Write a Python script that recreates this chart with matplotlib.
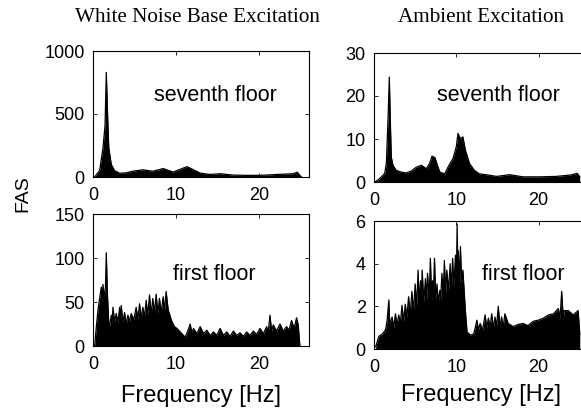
import matplotlib.pyplot as plt
import numpy as np

# upper envelopes of the Fourier amplitude spectra
wn7_f = [0.0, 0.2, 0.8, 1.2, 1.45, 1.6, 1.73, 1.9, 2.2, 2.6, 3.2, 4.0, 4.8, 6.0, 7.2, 8.45,
         9.65, 11.3, 11.9, 12.9, 14.1, 15.3, 16.9, 18.5, 20.1, 22.1, 24.1, 24.6, 24.9, 25.1]
wn7_a = [0, 0, 52, 230, 410, 830, 540, 230, 100, 50, 30, 33, 46, 57, 46, 67,
         39, 82, 64, 31, 20, 26, 15, 13, 13, 20, 26, 38, 13, 0]

# spikes and the dense level between them
wn1_f = [0.0, 0.2, 0.4, 0.6, 0.8, 1.0, 1.1, 1.2, 1.33, 1.5, 1.6, 1.73, 1.9, 2.0, 2.2, 2.3,
         2.4, 2.6, 2.8, 3.0, 3.2, 3.3, 3.4, 3.6, 3.8, 4.0, 4.2, 4.4, 4.6, 4.9, 5.2, 5.4,
         5.6, 5.8, 6.0, 6.2, 6.4, 6.6, 6.8, 7.0, 7.2, 7.4, 7.6, 7.8, 8.0, 8.2, 8.45, 8.6,
         8.8, 9.05, 9.45, 9.8, 10.1, 10.7, 11.1, 11.4, 11.7, 11.9, 12.1, 12.5, 12.9, 13.3,
         13.7, 14.1, 14.5, 14.9, 15.3, 15.7, 16.1, 16.5, 16.9, 17.3, 17.7, 18.1, 18.5, 18.9,
         19.3, 19.7, 20.1, 20.5, 20.9, 21.1, 21.3, 21.5, 21.7, 22.1, 22.5, 22.9, 23.3, 23.6,
         23.9, 24.2, 24.5, 24.7, 24.9]
wn1_a = [0, 0, 22, 41, 54, 67, 50, 70, 56, 67, 106, 60, 25, 22, 35, 24,
         44, 28, 37, 26, 44, 30, 46, 27, 38, 25, 35, 28, 37, 30, 44, 30,
         48, 32, 44, 33, 52, 35, 58, 36, 54, 38, 59, 37, 54, 38, 56, 40,
         62, 41, 29, 22, 20, 14, 10, 17, 25, 15, 20, 14, 22, 14,
         18, 12, 16, 12, 20, 12, 16, 11, 17, 12, 15, 11, 16, 12,
         17, 13, 20, 14, 22, 16, 35, 17, 24, 17, 25, 17, 22, 18,
         29, 20, 32, 24, 0]

amb7_f = [0.1, 0.5, 0.9, 1.3, 1.5, 1.7, 1.86, 1.98, 2.1, 2.3, 2.7, 3.3, 3.9, 4.5, 5.1, 5.75,
          6.35, 6.75, 7.05, 7.4, 7.7, 8.0, 8.6, 9.0, 9.6, 10.0, 10.2, 10.5, 10.8, 11.1, 11.6,
          12.2, 12.8, 13.6, 14.9, 16.5, 18.1, 20.1, 22.1, 23.8, 24.7, 25.0]
amb7_a = [0, 0.5, 1.2, 2.0, 4.3, 14.4, 24.4, 14.4, 5.8, 3.9, 2.7, 2.3, 2.1, 2.5, 3.4, 3.9,
          3.1, 4.3, 6.0, 5.7, 3.9, 2.3, 1.9, 3.5, 5.5, 8.2, 11.3, 10.1, 10.5, 7.4, 4.3,
          2.7, 1.9, 1.7, 1.3, 1.7, 1.2, 1.2, 1.3, 1.6, 2.0, 1.2]

amb1_f = [0.2, 0.6, 1.0, 1.4, 1.6, 1.8, 1.9, 2.2, 2.4, 2.6, 2.8, 3.0, 3.2, 3.4, 3.6, 3.8,
          4.0, 4.2, 4.4, 4.6, 4.8, 5.0, 5.2, 5.35, 5.5, 5.65, 5.75, 5.85, 6.05, 6.25, 6.4,
          6.5, 6.7, 6.85, 7.0, 7.1, 7.2, 7.35, 7.5, 7.65, 7.8, 8.0, 8.1, 8.25, 8.4, 8.55,
          8.7, 8.85, 9.05, 9.25, 9.4, 9.55, 9.7, 9.9, 10.0, 10.1, 10.2, 10.25, 10.4, 10.5,
          10.65, 10.8, 11.1, 11.3, 11.7, 12.1, 12.3, 12.5, 12.7, 12.9, 13.2, 13.5, 13.7,
          13.9, 14.1, 14.3, 14.5, 14.7, 14.9, 15.1, 15.3, 15.5, 15.7, 15.9, 16.3, 16.9,
          17.5, 18.1, 18.7, 19.35, 19.95, 20.6, 21.2, 21.8, 22.4, 22.6, 22.8, 23.0, 23.1,
          23.6, 24.2, 24.8, 25.0]
amb1_a = [0.1, 0.6, 0.7, 0.9, 1.35, 2.3, 1.2, 1.5, 1.0, 1.65, 1.1, 1.6, 1.2, 2.05, 1.3, 2.1,
          1.5, 2.45, 1.6, 2.7, 1.8, 3.05, 2.0, 3.7, 2.1, 3.2, 2.2, 3.7, 2.2, 3.3, 2.3,
          3.55, 2.4, 4.25, 2.3, 3.2, 2.4, 4.25, 2.3, 3.05, 2.2, 2.75, 2.3, 3.55, 2.5, 4.15,
          2.6, 3.7, 2.7, 4.0, 2.8, 4.25, 2.9, 4.4, 3.1, 5.85, 3.2, 4.6, 3.0, 4.8,
          3.1, 3.7, 1.8, 0.8, 0.65, 0.7, 1.0, 1.35, 0.9, 1.2, 0.9, 1.6, 1.0,
          1.45, 1.0, 1.65, 1.0, 1.5, 1.1, 2.0, 1.0, 1.5, 1.0, 1.65, 1.2, 1.05,
          1.15, 1.2, 1.1, 1.3, 1.35, 1.45, 1.6, 1.65, 1.9, 1.4, 2.7, 1.4, 1.8,
          1.8, 1.6, 1.8, 0.7]

titles = ['White Noise Base Excitation', 'Ambient Excitation']
floor_labels = ['seventh floor', 'first floor']

plt.rcParams['font.family'] = ['Liberation Sans', 'DejaVu Sans']

W, H = 581, 411
fig = plt.figure(figsize=(W / 100, H / 100), dpi=100)


def add_ax(x0, y0, x1, y1):
    # pixel box -> figure fraction
    return fig.add_axes([x0 / W, 1 - y1 / H, (x1 - x0) / W, (y1 - y0) / H])


panels = [
    (add_ax(93, 51, 309, 177), wn7_f, wn7_a, [0, 500, 1000], floor_labels[0], (14.7, 650)),
    (add_ax(93, 214, 309, 346), wn1_f, wn1_a, [0, 50, 100, 150], floor_labels[1], (14.6, 81)),
    (add_ax(374, 53, 588, 182), amb7_f, amb7_a, [0, 10, 20, 30], floor_labels[0], (15.1, 20.2)),
    (add_ax(374, 221, 588, 349), amb1_f, amb1_a, [0, 2, 4, 6], floor_labels[1], (18.2, 3.47)),
]

for ax, f, a, yt, lab, pos in panels:
    ax.fill_between(f, 0, a, color='black', lw=0)
    ax.plot(f, a, color='black', lw=0.9)
    ax.set_xlim(0, 26)
    ax.set_ylim(yt[0], yt[-1])
    ax.set_xticks([0, 10, 20])
    ax.set_yticks(yt)
    ax.tick_params(direction='in', length=3, width=0.6, labelsize=13,
                   top=True, right=True)
    ax.tick_params(axis='x', pad=7)
    ax.tick_params(axis='y', pad=6)
    for s in ax.spines.values():
        s.set_linewidth(0.8)
    ax.text(pos[0], pos[1], lab, ha='center', va='center', fontsize=15.5)

panels[1][0].set_xlabel('Frequency [Hz]', fontsize=17, labelpad=9)
panels[3][0].set_xlabel('Frequency [Hz]', fontsize=17, labelpad=6)

fig.text(197 / W, 1 - 18 / H, titles[0], ha='center', va='center', fontsize=15.2,
         family=['Liberation Serif', 'DejaVu Serif'])
fig.text(481 / W, 1 - 18 / H, titles[1], ha='center', va='center', fontsize=15.2,
         family=['Liberation Serif', 'DejaVu Serif'])
fig.text(23 / W, 1 - 194 / H, 'FAS', rotation=90, ha='center', va='center', fontsize=14)

fig.savefig('out.png', dpi=100)
